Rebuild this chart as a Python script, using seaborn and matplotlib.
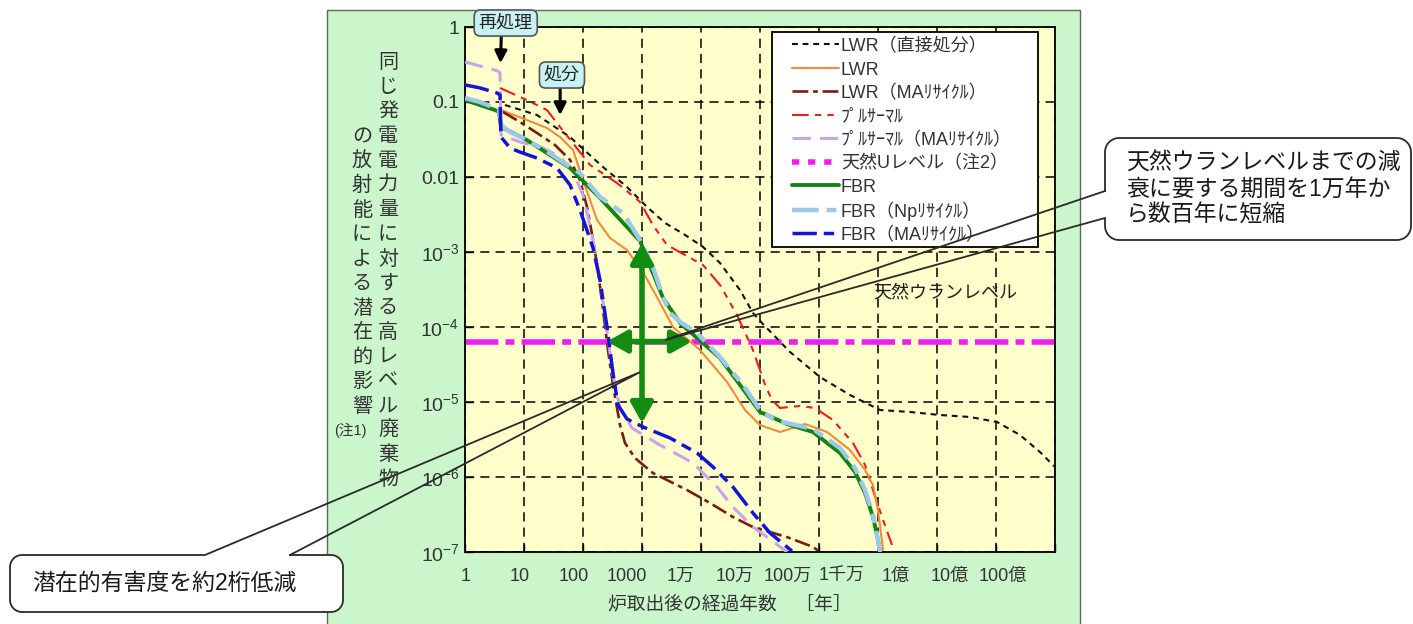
import numpy as np
import matplotlib
matplotlib.use("Agg")
import matplotlib.pyplot as plt
import seaborn as sns
from matplotlib.lines import Line2D
from matplotlib.patches import Rectangle, Polygon, FancyArrowPatch

sns.set_theme(style="white")
plt.rcParams["font.family"] = ["Liberation Sans", "Noto Sans CJK JP", "DejaVu Sans"]
plt.rcParams["mathtext.default"] = "regular"
plt.rcParams["axes.unicode_minus"] = False

W, H = 1413, 624

# ---------------- data: years after discharge vs. relative potential toxicity ----------------
years_lwr_direct = [4.76, 16.6, 60.3, 218, 557, 1220, 2450, 5360, 1.08e4, 2.1e4, 4.58e4, 7.6e4,
                    1.08e5, 3.22e5, 1.04e6, 3.35e6, 1.08e7, 3.48e7, 1.12e8, 3.62e8, 1.04e9,
                    2.55e9, 5.57e9, 1e10]
tox_lwr_direct = [0.0912, 0.0671, 0.0341, 0.0136, 0.00736, 0.00398, 0.00244, 0.00169, 0.00117,
                  7.13e-4, 3.11e-4, 1.54e-4, 1.13e-4, 4.65e-5, 2.15e-5, 1.24e-5, 7.82e-6, 7.36e-6,
                  6.71e-6, 6.31e-6, 5.41e-6, 3.63e-6, 2.15e-6, 1.36e-6]

years_lwr = [4.07, 11.2, 24.5, 40.7, 67.8, 100, 173, 287, 557, 1040, 1790, 3350, 9620, 2.76e4,
             5.57e4, 1.0e5, 2.18e5, 3.62e5, 5.79e5, 1.37e6, 3.35e6, 6.03e6, 8.22e6, 1.0e7, 1.22e7]
tox_lwr = [0.0782, 0.0575, 0.045, 0.0341, 0.0229, 0.00912, 0.00267, 0.00154, 0.00106, 5.41e-4,
           2.51e-4, 1.0e-4, 4.93e-5, 1.85e-5, 7.82e-6, 4.93e-6, 3.98e-6, 4.5e-6, 5.09e-6, 3.98e-6,
           2.29e-6, 1.24e-6, 7.82e-7, 3.63e-7, 1.06e-7]

years_lwr_ma = [4.41, 8.55, 16.6, 33.5, 60.3, 88.9, 117, 148, 179, 218, 265, 322, 424, 515, 760,
                1530, 5790, 1.42e4, 3.48e4, 7.6e4, 2.87e5, 7.9e5, 1.04e6]
tox_lwr_ma = [0.0736, 0.0541, 0.0386, 0.0267, 0.0169, 0.00912, 0.00398, 0.00145, 5.75e-4, 1.69e-4,
              4.93e-5, 1.69e-5, 4.93e-6, 2.84e-6, 1.79e-6, 1.13e-6, 6.71e-7, 4.5e-7, 2.93e-7,
              2.15e-7, 1.58e-7, 1.17e-7, 1.0e-7]

years_pu = [3.92, 11.2, 24.5, 40.7, 65.2, 131, 377, 925, 1530, 2650, 5360, 1.08e4, 2.1e4, 4.07e4,
            7.6e4, 1.22e5, 1.6e5, 2.18e5, 4.76e5, 8.55e5, 1.73e6, 3.77e6, 6.03e6, 8.22e6, 1.17e7,
            1.73e7]
tox_pu = [0.154, 0.106, 0.0782, 0.0465, 0.0293, 0.0145, 0.00832, 0.00465, 0.00229, 0.00124,
          9.12e-4, 6.71e-4, 3.63e-4, 1.45e-4, 4.93e-5, 1.69e-5, 1.06e-5, 8.32e-6, 8.85e-6, 8.32e-6,
          5.75e-6, 2.84e-6, 1.45e-6, 6.71e-7, 2.93e-7, 1.24e-7]

years_pu_ma = [1, 1.8, 3.62, 3.92, 4.07, 8.55, 21, 40.7, 65.2, 100, 142, 194, 255, 322, 424, 676,
               2020, 7310, 1.87e4, 3.48e4, 7.6e4, 1.32e5, 2.87e5]
tox_pu_ma = [0.341, 0.302, 0.259, 0.244, 0.0363, 0.0293, 0.0244, 0.0185, 0.0124, 0.00575,
             0.00169, 4.24e-4, 9.12e-5, 2.29e-5, 8.32e-6, 4.5e-6, 2.67e-6, 1.54e-6, 7.36e-7,
             3.98e-7, 2.15e-7, 1.58e-7, 1.0e-7]

natural_u_level = 6.4e-5
years_span = [1, 1e10]

years_fbr = [1, 3.22, 3.77, 4.07, 11.2, 60.3, 194, 925, 2270, 4410, 2.1e4, 1.0e5, 2.87e5, 7.9e5,
             2.27e6, 4.07e6, 6.03e6, 8.22e6, 1.0e7, 1.08e7]
tox_fbr = [0.106, 0.0782, 0.0736, 0.0465, 0.0311, 0.0132, 0.00525, 0.0014, 2.44e-4, 1.13e-4,
           3.86e-5, 7.36e-6, 5.09e-6, 3.98e-6, 2.09e-6, 1.17e-6, 6.12e-7, 2.93e-7, 1.45e-7, 1.0e-7]

years_fbr_np = [1, 1.8, 3.22, 3.77, 4.07, 5.8, 9.6, 22.7, 60.3, 88.9, 194, 476, 925, 1530, 2270,
                2990, 4410, 8550, 2.1e4, 5.15e4, 1.0e5, 1.79e5, 2.87e5, 7.9e5, 2.27e6, 4.07e6,
                6.03e6, 8.22e6, 1.0e7, 1.08e7]
tox_fbr_np = [0.113, 0.1, 0.0832, 0.0782, 0.0493, 0.0398, 0.0331, 0.0229, 0.0136, 0.0113, 0.00541,
              0.00331, 0.00145, 6.31e-4, 2.51e-4, 1.54e-4, 1.17e-4, 8.32e-5, 3.98e-5, 1.69e-5,
              7.82e-6, 5.75e-6, 5.25e-6, 4.37e-6, 2.44e-6, 1.32e-6, 6.71e-7, 3.11e-7, 1.45e-7, 1.0e-7]

years_fbr_ma = [1, 1.8, 3.48, 3.92, 4.07, 5.8, 8.55, 16.6, 36.2, 60.3, 88.9, 148, 194, 255, 322,
                392, 557, 1040, 2990, 8550, 1.6e4, 3.48e4, 7.6e4, 1.48e5, 3.48e5]
tox_fbr_ma = [0.169, 0.154, 0.132, 0.124, 0.0341, 0.0244, 0.0215, 0.0179, 0.0132, 0.00782,
              0.00363, 0.00113, 4.24e-4, 1.0e-4, 2.44e-5, 9.1e-6, 5.93e-6, 4.65e-6, 3.31e-6,
              2.09e-6, 1.36e-6, 7.36e-7, 3.31e-7, 1.79e-7, 1.03e-7]

# reduction arrows: at 1000 years between FBR(Np) and FBR(MA); along the natural-U level
arrow_year = 1000
arrow_top, arrow_bottom = 1.32e-3, 5.25e-6
arrow_left_year, arrow_right_year = 255, 7030

x_tick_years = [1e0, 1e1, 1e2, 1e3, 1e4, 1e5, 1e6, 1e7, 1e8, 1e9, 1e10]
x_tick_text = ["1", "10", "100", "1000", "1万", "10万", "100万", "1千万", "1億", "10億", "100億"]
y_tick_vals = [1e-7, 1e-6, 1e-5, 1e-4, 1e-3, 1e-2, 1e-1, 1]
y_tick_text = ["10$^{-7}$", "10$^{-6}$", "10$^{-5}$", "10$^{-4}$", "10$^{-3}$", "0.01", "0.1", "1"]

legend_labels = ["LWR（直接処分）", "LWR", "LWR（MAﾘｻｲｸﾙ）", "ﾌﾟﾙｻｰﾏﾙ", "ﾌﾟﾙｻｰﾏﾙ（MAﾘｻｲｸﾙ）",
                 "天然Uレベル（注2）", "FBR", "FBR（Npﾘｻｲｸﾙ）", "FBR（MAﾘｻｲｸﾙ）"]

# ---------------- figure ----------------
fig = plt.figure(figsize=(W / 100, H / 100), dpi=100)
fig.patch.set_facecolor("white")

# light green panel behind the chart
fig.add_artist(Rectangle((327 / W, -0.01), (1080 - 327) / W, (H - 10) / H + 0.01,
                         transform=fig.transFigure, facecolor="#cbf5cb",
                         edgecolor="#5a6a5a", linewidth=1.0, zorder=-5))

ax = fig.add_axes([465 / W, (H - 552) / H, 590 / W, 525 / H])
ax.set_facecolor("#ffffcc")
ax.set_xscale("log")
ax.set_yscale("log")

GRN = "#148c14"
series = [
    ("lwr_direct", years_lwr_direct, tox_lwr_direct, "#111111", 1.5, (0, (2.8, 2.3)), 3.0),
    ("lwr", years_lwr, tox_lwr, "#f28a3a", 1.5, "-", 3.1),
    ("lwr_ma", years_lwr_ma, tox_lwr_ma, "#7a1c14", 1.9, (0, (6, 1.8, 1.8, 1.8)), 3.2),
    ("pu", years_pu, tox_pu, "#ee1c1c", 1.5, (0, (8, 3, 3, 3, 3, 3)), 3.0),
    ("pu_ma", years_pu_ma, tox_pu_ma, "#c9a4e8", 2.2, (0, (6, 3)), 3.3),
    ("nat_u", years_span, [natural_u_level, natural_u_level], "#f01cf0", 4.0,
     (0, (6, 1.3, 1.6, 1.3)), 2.0),
    ("fbr", years_fbr, tox_fbr, "#138413", 2.8, "-", 3.4),
    ("fbr_np", years_fbr_np, tox_fbr_np, "#9cc8ea", 3.2, (0, (6, 1.8, 2.2, 1.8)), 3.5),
    ("fbr_ma", years_fbr_ma, tox_fbr_ma, "#1414d8", 2.5, (0, (7, 2, 3, 2)), 3.6),
]

handles = []
for (key, xs, ys, col, lw, ls, z), lab in zip(series, legend_labels):
    sns.lineplot(x=np.asarray(xs, float), y=np.asarray(ys, float), ax=ax, estimator=None,
                 sort=False, color=col, linewidth=lw, linestyle=ls, zorder=z, label=lab)
    line = ax.lines[-1]
    if key == "nat_u":
        handles.append(Line2D([], [], color=col, linewidth=4.0, linestyle=(0, (1.3, 1.6))))
    else:
        handles.append(line)

ax.set_xlim(1, 1e10)
ax.set_ylim(1e-7, 1)
ax.set_xlabel("")
ax.set_ylabel("")

ax.set_xticks(x_tick_years)
ax.set_xticklabels([""] * len(x_tick_years))
ax.xaxis.set_minor_locator(matplotlib.ticker.NullLocator())
ax.set_yticks(y_tick_vals)
ax.set_yticklabels(y_tick_text, fontsize=14, color="#333333")
ax.yaxis.set_minor_locator(matplotlib.ticker.NullLocator())
ax.tick_params(axis="both", which="major", direction="in", length=6, width=1.0,
               color="black", pad=4, bottom=True, left=True)
ax.grid(True, which="major", color="black", linestyle=(0, (6, 4)), linewidth=1.1)
ax.set_axisbelow(True)
for sp in ax.spines.values():
    sp.set_color("black")
    sp.set_linewidth(1.3)

# x tick labels laid out as evenly spaced text under the axis
for i, lab in enumerate(x_tick_text):
    ax.text(0.0017 + i * 0.091, -0.047, lab, transform=ax.transAxes, ha="center",
            va="center", fontsize=13, color="#333333")
ax.text(0.449, -0.101, "炉取出後の経過年数　［年］", transform=ax.transAxes, ha="center",
        va="center", fontsize=13.5, color="#333333")

# vertical y-axis title (two columns)
col_right = "同じ発電電力量に対する高レベル廃棄物"
col_left = "の放射能による潜在的影響"
for i, ch in enumerate(col_right):
    fig.text(388 / W, 1 - (63 + i * 24.5) / H, ch, ha="center", va="center",
             fontsize=14.5, color="#333333")
for i, ch in enumerate(col_left):
    fig.text(362 / W, 1 - (63 + (i + 3) * 24.5) / H, ch, ha="center", va="center",
             fontsize=14.5, color="#333333")
fig.text(350 / W, 1 - (63 + 15 * 24.5) / H, "(注1)", ha="center", va="center",
         fontsize=10.5, color="#333333")

# natural uranium label
ax.text(1.37e8, 2.84e-4, "天然ウランレベル", ha="center", va="center", fontsize=13,
        color="#222222", zorder=4)

# green reduction arrows
for p0, p1 in [((arrow_year, arrow_top), (arrow_year, arrow_bottom)),
               ((arrow_left_year, natural_u_level), (arrow_right_year, natural_u_level))]:
    ax.add_patch(FancyArrowPatch(p0, p1, arrowstyle="<|-|>,head_length=0.75,head_width=0.42",
                                 mutation_scale=16, linewidth=4, color=GRN, zorder=6,
                                 shrinkA=0, shrinkB=0))

# process markers
box_kw = dict(boxstyle="round,pad=0.25,rounding_size=0.35", fc="#c9f1f3", ec="#555555", lw=1.2)
ax.annotate("再処理", xy=(4.0, 0.33), xytext=(4.9, 1.13), textcoords="data",
            ha="center", va="center", fontsize=13, color="#222222", bbox=box_kw,
            annotation_clip=False, zorder=7,
            arrowprops=dict(arrowstyle="-|>,head_length=0.55,head_width=0.28", color="black",
                            lw=2.2, shrinkA=0, shrinkB=0, relpos=(0.42, 0.0)))
ax.annotate("処分", xy=(41, 0.067), xytext=(44, 0.229), textcoords="data",
            ha="center", va="center", fontsize=13, color="#222222", bbox=box_kw,
            annotation_clip=False, zorder=7,
            arrowprops=dict(arrowstyle="-|>,head_length=0.55,head_width=0.28", color="black",
                            lw=2.2, shrinkA=0, shrinkB=0, relpos=(0.45, 0.0)))

# legend: white framed box with the entries laid inside it
ax.add_patch(Rectangle((772 / W, 1 - 247 / H), (1038 - 772) / W, (247 - 32) / H,
                       transform=fig.transFigure, facecolor="white", edgecolor="black",
                       linewidth=1.3, zorder=7.5, clip_on=False))
leg = ax.legend(handles, legend_labels, loc="upper left",
                bbox_to_anchor=(792 / W, 1 - 37 / H), bbox_transform=fig.transFigure,
                frameon=False, fontsize=13, handlelength=2.6, handletextpad=0.1,
                labelspacing=0.29, borderpad=0.0, borderaxespad=0, handleheight=1.0)
for t in leg.get_texts():
    t.set_color("#333333")
leg.set_zorder(8)

# ---------------- callouts drawn on a pixel overlay ----------------
ov = fig.add_axes([0, 0, 1, 1], facecolor="none")
ov.set_xlim(0, W)
ov.set_ylim(H, 0)
ov.axis("off")
ov.set_zorder(20)


def to_px(x, y):
    dx, dy = ax.transData.transform((x, y))
    return dx, H - dy


def arc(cx, cy, r, a0, a1, n=10):
    t = np.radians(np.linspace(a0, a1, n))
    return list(zip(cx + r * np.cos(t), cy + r * np.sin(t)))


def corners(x0, y0, x1, y1, r):
    return (arc(x0 + r, y0 + r, r, 180, 270), arc(x1 - r, y0 + r, r, 270, 360),
            arc(x1 - r, y1 - r, r, 0, 90), arc(x0 + r, y1 - r, r, 90, 180))


def callout_left_gap(x0, y0, x1, y1, r, ya, yb, tip):
    tl, tr, br, bl = corners(x0, y0, x1, y1, r)
    fill = tl + tr + br + bl
    outline = [(x0, ya)] + tl + tr + br + bl + [(x0, yb), tip, (x0, ya)]
    return fill, outline


def callout_top_gap(x0, y0, x1, y1, r, xa, xb, tip):
    tl, tr, br, bl = corners(x0, y0, x1, y1, r)
    fill = tl + tr + br + bl
    outline = [(xb, y0)] + tr + br + bl + tl + [(xa, y0), tip, (xb, y0)]
    return fill, outline


tip_right = to_px(2450, 6.7e-5)
tip_left = to_px(925, 2.5e-5)

for fill, outline in [callout_left_gap(1105, 138, 1411, 240, 14, 191, 218, tip_right),
                      callout_top_gap(10, 555, 343, 612, 12, 205, 290, tip_left)]:
    ov.add_patch(Polygon(fill, closed=True, facecolor="white", edgecolor="none", zorder=1))
    xs, ys = zip(*outline)
    ov.plot(xs, ys, color="#2a2a2a", linewidth=1.3, zorder=2, solid_joinstyle="miter")

for i, line in enumerate(["天然ウランレベルまでの減", "衰に要する期間を1万年か", "ら数百年に短縮"]):
    ov.text(1126, 163 + i * 26, line, ha="left", va="center", fontsize=16.5, color="#1a1a1a",
            zorder=3)
ov.text(32, 583, "潜在的有害度を約2桁低減", ha="left", va="center", fontsize=16.5,
        color="#1a1a1a", zorder=3)

fig.savefig("out.png", dpi=100)
